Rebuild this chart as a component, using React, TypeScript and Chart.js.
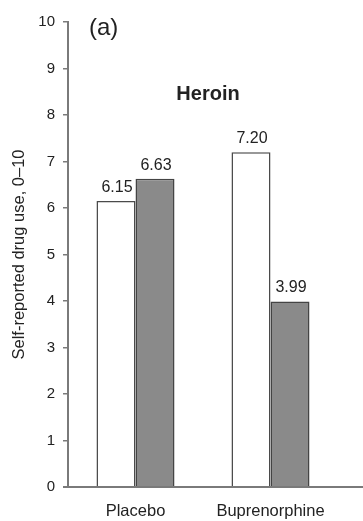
import React, { useEffect, useRef } from "react";
import { Chart, registerables } from "chart.js";

Chart.register(...registerables);

// Heroin use, self-reported on a 0–10 scale
const categories = ["Placebo", "Buprenorphine"];
const firstSession = [6.15, 7.2];
const secondSession = [6.63, 3.99];
const yTickValues = [0, 1, 2, 3, 4, 5, 6, 7, 8, 9, 10];

const FONT = "'Liberation Sans', Arial, Helvetica, sans-serif";

const annotations = {
  id: "annotations",
  afterDatasetsDraw(chart: any) {
    const { ctx } = chart;
    ctx.save();
    // value labels above each bar
    ctx.fillStyle = "#222";
    ctx.font = `16px ${FONT}`;
    ctx.textAlign = "center";
    ctx.textBaseline = "alphabetic";
    chart.data.datasets.forEach((ds: any, di: number) => {
      const meta = chart.getDatasetMeta(di);
      meta.data.forEach((bar: any, i: number) => {
        ctx.fillText(Number(ds.data[i]).toFixed(2), bar.x + 1, bar.y - 9);
      });
    });
    // panel letter and panel heading
    ctx.textAlign = "left";
    ctx.font = `24px ${FONT}`;
    ctx.fillText("(a)", 89, 35);
    ctx.textAlign = "center";
    ctx.font = `bold 20px ${FONT}`;
    ctx.fillText("Heroin", 208, 100);
    ctx.restore();
  },
  afterDraw(chart: any) {
    // baseline runs on to the right edge
    const { ctx, chartArea, width } = chart;
    const y = chart.scales.y.getPixelForValue(0);
    ctx.save();
    ctx.strokeStyle = "#7a7a7a";
    ctx.lineWidth = 2;
    ctx.beginPath();
    ctx.moveTo(chartArea.left - 5, y);
    ctx.lineTo(width, y);
    ctx.stroke();
    ctx.restore();
  },
};

export default function App() {
  const ref = useRef<HTMLCanvasElement>(null);

  useEffect(() => {
    if (!ref.current) return;
    const chart = new Chart(ref.current, {
      type: "bar",
      data: {
        labels: categories,
        datasets: [
          {
            label: "Session 1",
            data: firstSession,
            backgroundColor: "#ffffff",
            borderColor: "#4a4a4a",
            borderWidth: 1.5,
            barPercentage: 1,
            categoryPercentage: 0.578,
          },
          {
            label: "Session 2",
            data: secondSession,
            backgroundColor: "#8a8a8a",
            borderColor: "#444444",
            borderWidth: 1.5,
            barPercentage: 1,
            categoryPercentage: 0.578,
          },
        ],
      },
      options: {
        animation: false,
        responsive: false,
        devicePixelRatio: 1,
        layout: { padding: { top: 22, right: 25, left: 0, bottom: 0 } },
        plugins: {
          legend: { display: false },
          tooltip: { enabled: false },
          title: { display: false },
        },
        scales: {
          x: {
            grid: { display: false, drawTicks: false },
            border: { display: false },
            ticks: {
              color: "#222",
              font: { family: FONT, size: 16.5 },
              padding: 15,
            },
            afterFit(scale: any) {
              scale.height = 34;
            },
          },
          y: {
            min: 0,
            max: 10,
            afterBuildTicks(scale: any) {
              scale.ticks = yTickValues.map((v) => ({ value: v }));
            },
            grid: {
              drawOnChartArea: false,
              drawTicks: true,
              tickLength: 5,
              color: "#7a7a7a",
              lineWidth: 1.5,
            },
            border: { display: true, color: "#7a7a7a", width: 2 },
            ticks: {
              color: "#222",
              font: { family: FONT, size: 15 },
              padding: 8,
            },
            title: {
              display: true,
              text: "Self-reported drug use, 0–10",
              color: "#222",
              font: { family: FONT, size: 16.5 },
              padding: { top: 10, bottom: 0 },
            },
            afterFit(scale: any) {
              scale.width = 68;
            },
          },
        },
      },
      plugins: [annotations],
    });
    return () => chart.destroy();
  }, []);

  return (
    <div style={{ position: "fixed", left: 0, top: 0, width: 363, height: 521, background: "#fff" }}>
      <canvas ref={ref} width={363} height={521} style={{ width: 363, height: 521 }} />
    </div>
  );
}
